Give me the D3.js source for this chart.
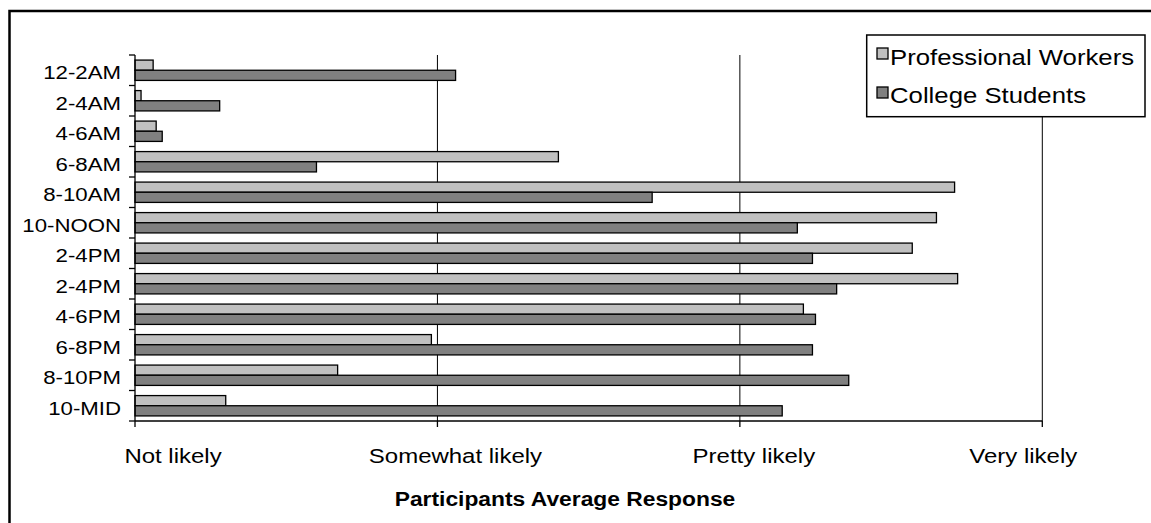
<!DOCTYPE html>
<html>
<head>
<meta charset="utf-8">
<script src="https://cdn.jsdelivr.net/npm/d3@7"></script>
<style>
  body { margin: 0; background: #fff; }
  svg { display: block; font-family: "Liberation Sans", Arial, sans-serif; }
</style>
</head>
<body>
<svg id="chart" width="1151" height="523"></svg>
<script>
// data (1 = Not likely ... 4 = Very likely)
var categories = ["12-2AM", "2-4AM", "4-6AM", "6-8AM", "8-10AM", "10-NOON", "2-4PM", "2-4PM", "4-6PM", "6-8PM", "8-10PM", "10-MID"];
var professional = [1.06, 1.02, 1.07, 2.40, 3.71, 3.65, 3.57, 3.72, 3.21, 1.98, 1.67, 1.30];
var students = [2.06, 1.28, 1.09, 1.60, 2.71, 3.19, 3.24, 3.32, 3.25, 3.24, 3.36, 3.14];
var seriesNames = ["Professional Workers", "College Students"];
var tickValues = [1, 2, 3, 4];
var tickLabels = ["Not likely", "Somewhat likely", "Pretty likely", "Very likely"];

var colors = ["#c0c0c0", "#808080"];
var labelShift = [38, 18, 14, -19]; // excel puts the labels a bit off the ticks
var sx = 1.17; // text is a bit stretched wide in the original

var svg = d3.select("#chart");
var plotL = 135, plotR = 1042.3, plotT = 55, plotB = 421;

var x = d3.scaleLinear().domain([1, 4]).range([plotL, plotR]);
var y = d3.scaleBand().domain(d3.range(categories.length)).range([plotT, plotB]).padding(0);
var ySub = d3.scaleBand().domain([0, 1]).range([0, y.bandwidth()]).paddingInner(0).paddingOuter(0.5);

function stretchedText(parent, tx, ty, str, size, anchor, weight) {
  parent.append("g").attr("transform", "translate(" + tx + "," + ty + ") scale(" + sx + ",1)")
    .append("text")
    .attr("text-anchor", anchor)
    .style("font-size", size + "px")
    .style("font-weight", weight || "normal")
    .attr("fill", "#000")
    .text(str);
}

// outer frame
svg.append("rect").attr("x", 9.5).attr("y", 11).attr("width", 1300).attr("height", 700)
  .attr("fill", "none").attr("stroke", "#000").attr("stroke-width", 2.5);

// gridlines
svg.append("g").selectAll("line").data(tickValues.slice(1)).enter().append("line")
  .attr("x1", function(d) { return x(d); }).attr("x2", function(d) { return x(d); })
  .attr("y1", plotT).attr("y2", plotB)
  .attr("stroke", "#000").attr("stroke-width", 1);

// bars
var rows = categories.map(function(c, i) { return {i: i, vals: [professional[i], students[i]]}; });
svg.append("g").selectAll("g").data(rows).enter().append("g")
  .attr("transform", function(d) { return "translate(0," + y(d.i) + ")"; })
  .selectAll("rect").data(function(d) { return d.vals; }).enter().append("rect")
  .attr("x", x(1))
  .attr("y", function(d, j) { return ySub(j); })
  .attr("width", function(d) { return x(d) - x(1); })
  .attr("height", ySub.bandwidth())
  .attr("fill", function(d, j) { return colors[j]; })
  .attr("stroke", "#000").attr("stroke-width", 1.3);

// y axis with ticks between categories
var yAxis = svg.append("g");
yAxis.append("line").attr("x1", plotL).attr("x2", plotL).attr("y1", plotT).attr("y2", plotB)
  .attr("stroke", "#000").attr("stroke-width", 1.3);
yAxis.selectAll("line.tk").data(d3.range(categories.length + 1)).enter().append("line")
  .attr("class", "tk")
  .attr("x1", plotL - 6).attr("x2", plotL)
  .attr("y1", function(d) { return plotT + d * y.step(); })
  .attr("y2", function(d) { return plotT + d * y.step(); })
  .attr("stroke", "#000").attr("stroke-width", 1.3);
categories.forEach(function(c, i) {
  stretchedText(yAxis, 121, y(i) + y.bandwidth() / 2 + 9, c, 19, "end");
});

// x axis
var xAxis = svg.append("g");
xAxis.append("line").attr("x1", plotL).attr("x2", plotR).attr("y1", plotB).attr("y2", plotB)
  .attr("stroke", "#000").attr("stroke-width", 1.3);
xAxis.selectAll("line.tk").data(tickValues).enter().append("line")
  .attr("class", "tk")
  .attr("x1", function(d) { return x(d); }).attr("x2", function(d) { return x(d); })
  .attr("y1", plotB).attr("y2", plotB + 6)
  .attr("stroke", "#000").attr("stroke-width", 1.3);
tickValues.forEach(function(v, i) {
  stretchedText(xAxis, x(v) + labelShift[i], 463, tickLabels[i], 20.5, "middle");
});

// axis title
stretchedText(svg, 565, 506, "Participants Average Response", 19.5, "middle", "bold");

// legend
var legend = svg.append("g");
legend.append("rect").attr("x", 866.7).attr("y", 35).attr("width", 278.3).attr("height", 81.7)
  .attr("fill", "#fff").attr("stroke", "#000").attr("stroke-width", 1.5);
seriesNames.forEach(function(s, i) {
  legend.append("rect").attr("x", 877).attr("y", 48 + i * 39).attr("width", 11).attr("height", 11)
    .attr("fill", colors[i]).attr("stroke", "#000").attr("stroke-width", 1.3);
  stretchedText(legend, 890, 65 + i * 38, s, 22, "start");
});
</script>
</body>
</html>
